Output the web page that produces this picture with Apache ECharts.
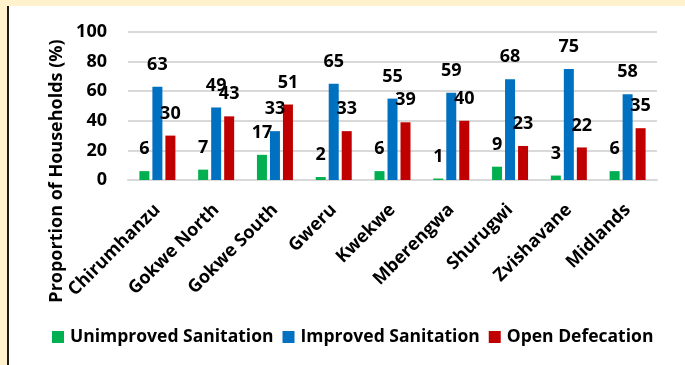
<!DOCTYPE html>
<html>
<head>
<meta charset="utf-8">
<script src="https://cdn.jsdelivr.net/npm/echarts@6/dist/echarts.min.js"></script>
<style>
  html, body { margin: 0; padding: 0; }
  body { width: 685px; height: 365px; background: #FFF2CC; position: relative; overflow: hidden; }
  #edge { position: absolute; left: 7px; top: 6px; width: 2px; height: 359px; background: #1a1a1a; }
  #chart { position: absolute; left: 9px; top: 6px; width: 676px; height: 359px; background: #ffffff; }
</style>
</head>
<body>
<div id="edge"></div>
<div id="chart"></div>
<script>
// Districts of Midlands province, plus the provincial total
const districts = ['Chirumhanzu', 'Gokwe North', 'Gokwe South', 'Gweru', 'Kwekwe',
                   'Mberengwa', 'Shurugwi', 'Zvishavane', 'Midlands'];

// Share of households (%) by sanitation type
const unimproved = [6, 7, 17, 2, 6, 1, 9, 3, 6];
const improved   = [63, 49, 33, 65, 55, 59, 68, 75, 58];
const openDef    = [30, 43, 51, 33, 39, 40, 23, 22, 35];

const seriesNames = ['Unimproved Sanitation', 'Improved Sanitation', 'Open Defecation'];
const yTicks = [0, 20, 40, 60, 80, 100];

const FONT = '"Open Sans", sans-serif';
const colors = ['#00B050', '#0070C0', '#C00000'];

function barSeries(name, data, color) {
  return {
    name: name,
    type: 'bar',
    data: data,
    barWidth: 10,
    barGap: '30%',
    itemStyle: { color: color },
    label: {
      show: true,
      position: 'top',
      distance: 13,
      color: '#000',
      fontFamily: FONT,
      fontWeight: 'bold',
      fontSize: 18
    }
  };
}

const chart = echarts.init(document.getElementById('chart'), null, { renderer: 'canvas' });
chart.setOption({
  animation: false,
  color: colors,
  grid: { left: 119, right: 28, top: 26, bottom: 185 },
  legend: {
    data: seriesNames,
    bottom: 14,
    left: 38,
    itemWidth: 12,
    itemHeight: 12,
    itemGap: 9,
    icon: 'rect',
    textStyle: { color: '#000', fontFamily: FONT, fontWeight: 'bold', fontSize: 17.5, padding: [0, 0, 0, 1] }
  },
  xAxis: {
    type: 'category',
    data: districts,
    axisLine: { lineStyle: { color: '#D9D9D9', width: 2 } },
    axisTick: { show: false },
    axisLabel: {
      rotate: 45,
      interval: 0,
      margin: 27,
      color: '#000',
      fontFamily: FONT,
      fontWeight: 'bold',
      fontSize: 18
    }
  },
  yAxis: {
    type: 'value',
    min: yTicks[0],
    max: yTicks[yTicks.length - 1],
    interval: 20,
    axisLine: { show: false },
    axisTick: { show: false },
    splitLine: { lineStyle: { color: '#D9D9D9', width: 2 } },
    axisLabel: {
      margin: 21,
      color: '#000',
      fontFamily: FONT,
      fontWeight: 'bold',
      fontSize: 18
    }
  },
  graphic: [{
    type: 'text',
    x: 48,
    y: 165,
    rotation: Math.PI / 2,
    style: {
      text: 'Proportion of Households (%)',
      fill: '#000',
      font: 'bold 18px ' + FONT,
      textAlign: 'center',
      textVerticalAlign: 'middle'
    }
  }],
  series: [
    barSeries(seriesNames[0], unimproved, colors[0]),
    barSeries(seriesNames[1], improved, colors[1]),
    barSeries(seriesNames[2], openDef, colors[2])
  ]
});
</script>
</body>
</html>
